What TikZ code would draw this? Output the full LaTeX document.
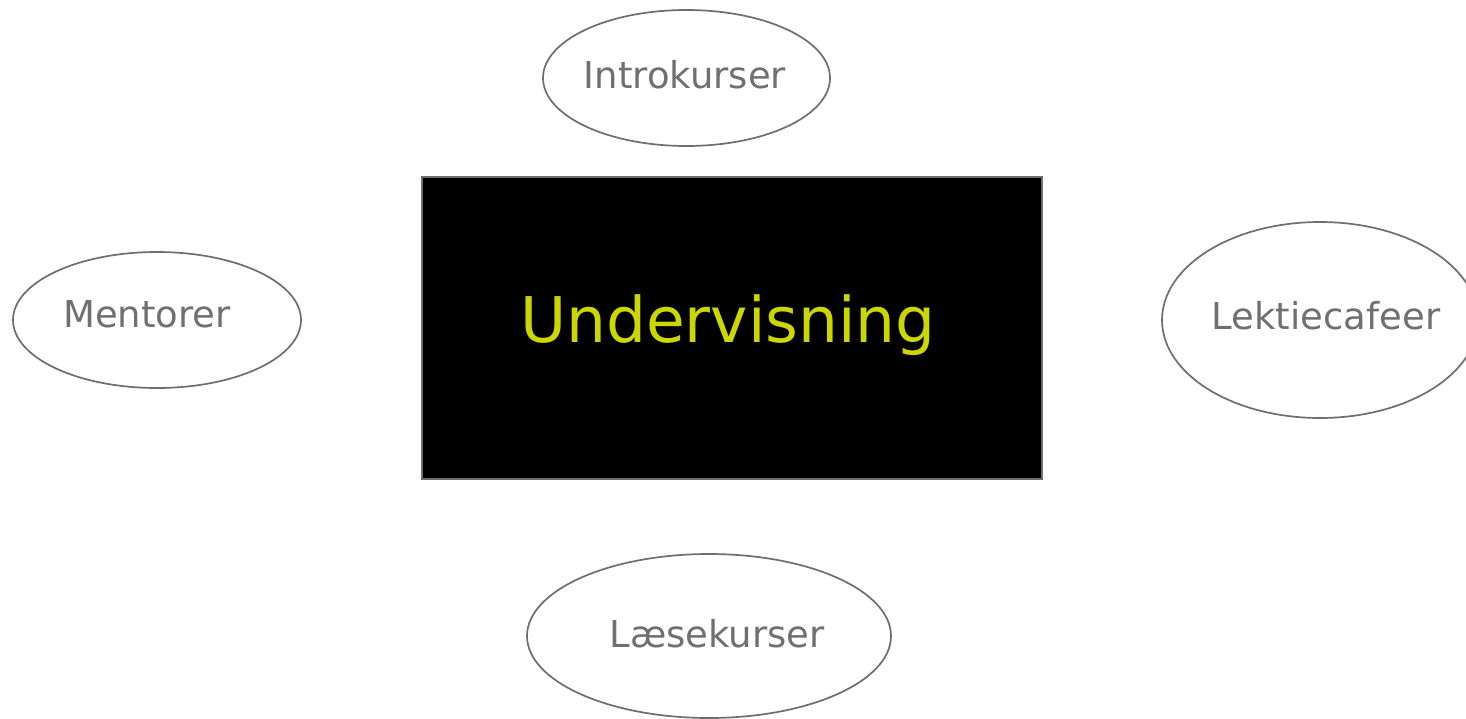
\documentclass[tikz,border=0pt]{standalone}
\usepackage{fontspec}
\setmainfont{DejaVu Sans}
\usetikzlibrary{shapes.geometric}
\definecolor{edgegray}{HTML}{6E6E6E}
\definecolor{txtgray}{HTML}{707070}
\definecolor{hiyellow}{HTML}{CCD600}
\tikzset{
  bubble/.style={ellipse, draw=edgegray, line width=1.7pt, inner sep=0pt},
  lbl/.style={anchor=base, text=txtgray, font=\fontsize{37}{44}\selectfont, inner sep=0pt},
  core/.style={rectangle, draw=edgegray, fill=black, line width=1.7pt, inner sep=0pt}
}
\begin{document}
\begin{tikzpicture}[x=1pt,y=-1pt]
\useasboundingbox (0,0) rectangle (1466,718);
\clip (0,0) rectangle (1466,718);
\fill[white] (0,0) rectangle (1466,718);
% central box
\node[core, minimum width=620pt, minimum height=302pt] (und) at (732,328) {};
\node[anchor=base, text=hiyellow, font=\fontsize{63}{75}\selectfont, inner sep=0pt] (undt) at (728,342) {Undervisning};
% ellipses
\node[bubble, minimum width=287pt, minimum height=136pt] (intro) at (686.5,78) {};
\node[lbl] (introt) at (685,88) {Introkurser};
\node[bubble, minimum width=288pt, minimum height=136pt] (ment) at (157,320) {};
\node[lbl] (mentt) at (147,327) {Mentorer};
\node[bubble, minimum width=316pt, minimum height=196pt] (lekt) at (1320,320) {};
\node[lbl] (lektt) at (1326,329) {Lektiecafeer};
\node[bubble, minimum width=364pt, minimum height=164pt] (laes) at (709,636) {};
\node[lbl] (laest) at (717,647) {Læsekurser};
\end{tikzpicture}
\end{document}
